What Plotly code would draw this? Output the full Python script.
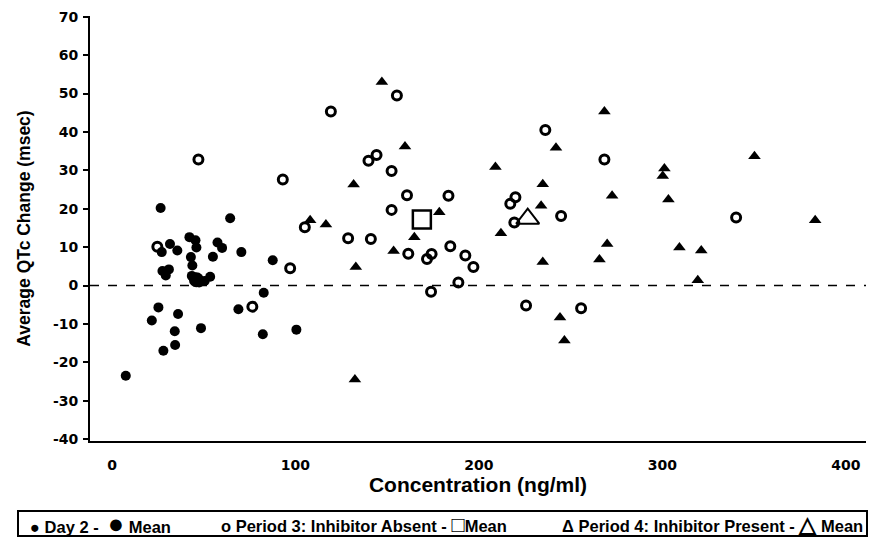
import plotly.graph_objects as go

# ---------------- data ----------------
day2_x = [7.5, 26.5, 64.4, 31.6, 35.6, 27.1, 42.2, 45.5, 46.0, 57.5, 60.0, 55.0, 43.0,
          43.8, 27.5, 31.0, 29.3, 43.5, 47.5, 50.5, 53.5, 70.5, 87.6, 82.7, 68.9, 82.2,
          100.5, 48.5, 25.3, 36.0, 21.7, 34.2, 34.4, 28.0]
day2_y = [-23.5, 20.2, 17.5, 10.8, 9.1, 8.7, 12.6, 11.8, 9.9, 11.2, 9.8, 7.5, 7.4,
          5.2, 3.8, 4.2, 2.6, 2.5, 0.8, 1.2, 2.3, 8.7, 6.6, -1.9, -6.2, -12.7,
          -11.5, -11.1, -5.7, -7.4, -9.1, -11.9, -15.5, -17.0]
day2_mean_x = [46.0]
day2_mean_y = [1.5]

p3_x = [24.7, 47.1, 76.5, 93.1, 97.1, 105.1, 119.3, 128.7, 139.8, 144.2, 141.1, 152.4,
        155.3, 152.4, 160.8, 161.5, 174.2, 171.7, 173.9, 183.4, 184.4, 188.8, 192.6,
        197.0, 217.1, 219.9, 219.3, 225.7, 236.2, 244.8, 255.7, 268.4, 340.2]
p3_y = [10.1, 32.8, -5.5, 27.6, 4.5, 15.2, 45.3, 12.3, 32.5, 34.0, 12.1, 29.8,
        49.5, 19.7, 23.5, 8.3, 8.2, 6.9, -1.6, 23.4, 10.2, 0.8, 7.8,
        4.8, 21.3, 23.0, 16.4, -5.2, 40.5, 18.1, -5.9, 32.8, 17.7]
p3_mean_x = [168.9]
p3_mean_y = [17.2]

p4_x = [108.0, 116.6, 131.7, 132.9, 132.4, 147.1, 153.5, 159.7, 164.8, 178.4, 209.0,
        212.0, 233.9, 234.8, 234.8, 242.0, 244.2, 246.6, 265.7, 268.4, 269.9, 272.6,
        300.2, 301.1, 303.3, 309.3, 319.3, 321.2, 350.2, 383.3]
p4_y = [17.0, 15.9, 26.3, 4.8, -24.5, 53.0, 9.0, 36.2, 12.6, 19.1, 30.9,
        13.6, 20.8, 26.4, 6.1, 35.9, -8.3, -14.3, 6.8, 45.3, 10.8, 23.4,
        28.5, 30.5, 22.4, 9.9, 1.4, 9.1, 33.7, 17.0]
p4_mean_x = [226.6]
p4_mean_y = [17.4]

y_ticks = [-40, -30, -20, -10, 0, 10, 20, 30, 40, 50, 60, 70]
x_ticks = [0, 100, 200, 300, 400]

x_title = "Concentration (ng/ml)"
y_title = "Average QTc Change (msec)"

legend_day2 = "Day 2 - "
legend_p3 = "Period 3: Inhibitor Absent - "
legend_p4 = "Period 4: Inhibitor Present - "
legend_mean = "Mean"

FONT = "Liberation Sans, Arial, sans-serif"
TICK_FONT = "DejaVu Sans, sans-serif"

fig = go.Figure()
fig.add_trace(go.Scatter(x=day2_x, y=day2_y, mode="markers", name="Day 2",
                         marker=dict(symbol="circle", size=10, color="black")))
fig.add_trace(go.Scatter(x=day2_mean_x, y=day2_mean_y, mode="markers", name="Day 2 Mean",
                         marker=dict(symbol="circle", size=15, color="black")))
fig.add_trace(go.Scatter(x=p3_x, y=p3_y, mode="markers", name="Period 3: Inhibitor Absent",
                         marker=dict(symbol="circle-open", size=9, color="black",
                                     line=dict(width=3, color="black"))))
fig.add_trace(go.Scatter(x=p3_mean_x, y=p3_mean_y, mode="markers", name="Period 3 Mean",
                         marker=dict(symbol="square-open", size=18, color="black",
                                     line=dict(width=2.5, color="black"))))
fig.add_trace(go.Scatter(x=p4_x, y=p4_y, mode="markers", name="Period 4: Inhibitor Present",
                         marker=dict(symbol="triangle-up", size=11, color="black")))
fig.add_trace(go.Scatter(x=p4_mean_x, y=p4_mean_y, mode="markers", name="Period 4 Mean",
                         marker=dict(symbol="triangle-up-open", size=20, color="black",
                                     line=dict(width=2, color="black"))))

# dashed zero reference line
fig.add_hline(y=0, line=dict(color="black", width=1.5, dash="dash"))

# ---- boxed legend row below the x-axis title ----
def px_x(p):  # pixel column -> paper x (plot area spans 90..866 px)
    return (p - 90) / 776.0

def px_y(p):  # pixel row -> paper y (plot area spans 16..441 px)
    return (441 - p) / 425.0

fig.add_shape(type="rect", xref="paper", yref="paper",
              x0=px_x(18), x1=px_x(867), y0=px_y(536), y1=px_y(511),
              line=dict(color="black", width=2), fillcolor="white", layer="below")

def big(sym, size=22):
    return "<span style='font-size:%dpx'>%s</span>" % (size, sym)

leg_font = dict(family=FONT, size=16.5, color="black", weight="bold")
legend_items = [
    (28, "●" + " " + legend_day2 + " " + big("●", 27) + " " + legend_mean),
    (219, "o " + legend_p3 + big("□") + legend_mean),
    (560, "Δ " + legend_p4 + big("△") + " " + legend_mean),
]
for left, txt in legend_items:
    fig.add_annotation(xref="paper", yref="paper", x=px_x(left), y=px_y(524),
                       xanchor="left", yanchor="middle", showarrow=False,
                       text=txt, font=leg_font)

tick_font = dict(family=TICK_FONT, size=14, color="black", weight="bold")

fig.update_layout(
    width=869, height=541,
    margin=dict(l=90, r=3, t=16, b=100),
    paper_bgcolor="white", plot_bgcolor="white",
    font=dict(family=FONT, color="black", size=13),
    showlegend=False,
    xaxis=dict(range=[-12, 411], tickvals=x_ticks,
               ticktext=["<b>%d</b>" % v for v in x_ticks],
               showgrid=False, zeroline=False,
               showline=True, linecolor="black", linewidth=2, ticks="",
               ticklabelstandoff=10,
               tickfont=tick_font,
               title=dict(text="<b>%s</b>" % x_title, standoff=5,
                          font=dict(family=FONT, size=21, color="black", weight="bold"))),
    yaxis=dict(range=[-40.5, 70.2], tickvals=y_ticks,
               ticktext=["<b>%d</b>" % v for v in y_ticks],
               showgrid=False, zeroline=False,
               showline=True, linecolor="black", linewidth=2, ticks="outside",
               ticklen=5, tickwidth=2, tickcolor="black", ticklabelstandoff=2,
               tickfont=tick_font,
               title=dict(text="<b>%s</b>" % y_title, standoff=18,
                          font=dict(family=FONT, size=17.5, color="black", weight="bold"))),
)

fig.write_html("out.html")
